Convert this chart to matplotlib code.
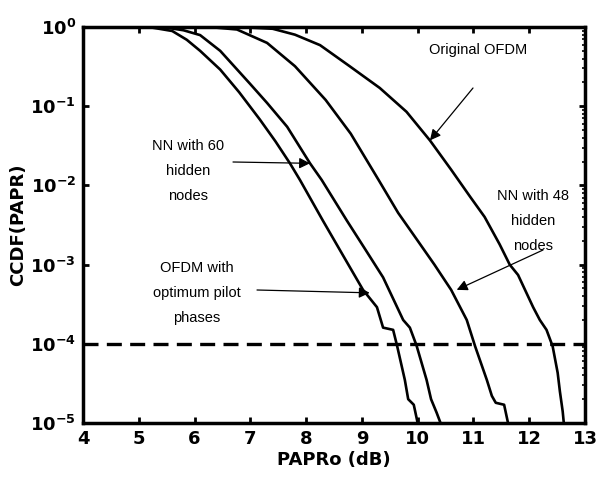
import matplotlib
matplotlib.use("Agg")
import matplotlib.pyplot as plt
from matplotlib.ticker import FixedLocator, LogLocator, NullFormatter

# ---- data ----
pilot_x = [4.0, 5.0, 5.25, 5.6, 5.86, 6.1, 6.46, 6.8, 7.17, 7.45, 7.71, 7.89, 8.3, 8.65, 9.02, 9.27, 9.38, 9.56, 9.63, 9.77, 9.83, 9.93, 10.0]
pilot_y = [1.0, 1.0, 0.98, 0.89, 0.69, 0.50, 0.29, 0.15, 0.068, 0.036, 0.019, 0.0117, 0.0036, 1.35e-3, 4.8e-4, 2.9e-4, 1.6e-4, 1.5e-4, 9.5e-5, 3.5e-5, 2.0e-5, 1.7e-5, 1.0e-5]

nn60_x = [4.0, 5.2, 5.5, 5.8, 6.1, 6.46, 7.0, 7.3, 7.66, 8.07, 8.28, 8.73, 9.05, 9.38, 9.74, 9.86, 9.98, 10.16, 10.24, 10.34, 10.41]
nn60_y = [1.0, 1.0, 0.98, 0.91, 0.79, 0.50, 0.19, 0.11, 0.055, 0.019, 0.0117, 0.0036, 1.6e-3, 6.9e-4, 2.0e-4, 1.6e-4, 9.5e-5, 3.5e-5, 2.0e-5, 1.35e-5, 1.0e-5]

nn48_x = [4.0, 6.0, 6.4, 6.76, 7.3, 7.8, 8.35, 8.8, 9.3, 9.65, 9.98, 10.3, 10.6, 10.88, 11.03, 11.24, 11.33, 11.4, 11.55, 11.62]
nn48_y = [1.0, 1.0, 0.98, 0.93, 0.63, 0.32, 0.12, 0.045, 0.0117, 0.0045, 0.0021, 1.0e-3, 4.8e-4, 2.0e-4, 9.3e-5, 3.5e-5, 2.2e-5, 1.8e-5, 1.7e-5, 1.0e-5]

orig_x = [4.0, 6.8, 7.4, 7.8, 8.25, 8.78, 9.32, 9.8, 10.22, 10.6, 10.94, 11.2, 11.47, 11.65, 11.8, 12.07, 12.19, 12.31, 12.42, 12.51, 12.55, 12.6, 12.62]
orig_y = [1.0, 1.0, 0.95, 0.8, 0.59, 0.32, 0.17, 0.085, 0.037, 0.0158, 0.0072, 0.004, 0.0018, 1.0e-3, 7.4e-4, 2.9e-4, 2.0e-4, 1.5e-4, 9.3e-5, 4.3e-5, 2.5e-5, 1.4e-5, 1.0e-5]

threshold = 1e-4

xticks = [4, 5, 6, 7, 8, 9, 10, 11, 12, 13]
yticks = [1e-5, 1e-4, 1e-3, 1e-2, 1e-1, 1e0]
ytick_labels = [r'$\mathbf{10^{-5}}$', r'$\mathbf{10^{-4}}$', r'$\mathbf{10^{-3}}$',
                r'$\mathbf{10^{-2}}$', r'$\mathbf{10^{-1}}$', r'$\mathbf{10^{0}}$']

fig = plt.figure(figsize=(5.99, 4.78), dpi=100)
ax = fig.add_axes([83/599, 1-423/478, (585-83)/599, (423-27)/478])

lw = 1.9
for xs, ys in [(pilot_x, pilot_y), (nn60_x, nn60_y), (nn48_x, nn48_y), (orig_x, orig_y)]:
    ax.plot(xs, ys, color='black', lw=lw, solid_joinstyle='round')

ax.axhline(threshold, color='black', lw=2.4, ls=(0, (4.5, 2.5)))

ax.set_yscale('log')
ax.set_xlim(4, 13)
ax.set_ylim(1e-5, 1)

ax.xaxis.set_major_locator(FixedLocator(xticks))
ax.set_xticklabels([str(t) for t in xticks], fontsize=13, fontweight='bold')
ax.yaxis.set_major_locator(FixedLocator(yticks))
ax.set_yticklabels(ytick_labels, fontsize=13)
ax.yaxis.set_minor_locator(LogLocator(base=10, subs=range(2, 10), numticks=20))
ax.yaxis.set_minor_formatter(NullFormatter())

ax.tick_params(axis='both', which='major', direction='in', length=4, width=2,
               top=True, right=True, pad=5)
ax.tick_params(axis='y', which='minor', direction='in', length=2.5, width=1.2,
               left=False, right=True)
for s in ax.spines.values():
    s.set_linewidth(2.5)

ax.set_xlabel('PAPRo (dB)', fontsize=13, fontweight='bold', labelpad=2)
ax.set_ylabel('CCDF(PAPR)', fontsize=13, fontweight='bold', labelpad=2)

tfont = dict(fontsize=10.5, family='Liberation Sans', ha='center', va='center', linespacing=2.0)
aprops = dict(arrowstyle='-|>', color='black', lw=0.9, mutation_scale=16, shrinkA=0, shrinkB=0)

def px(x, y):
    return (x / 599, 1 - y / 478)

ax.annotate('Original OFDM', xy=px(478, 50), xycoords='figure fraction', **tfont)
ax.annotate('', xy=(10.22, 0.037), xytext=px(473, 88), textcoords='figure fraction', arrowprops=aprops)

ax.annotate('NN with 60\nhidden\nnodes', xy=px(188, 171), xycoords='figure fraction', **tfont)
ax.annotate('', xy=(8.07, 0.019), xytext=px(233, 162), textcoords='figure fraction', arrowprops=aprops)

ax.annotate('NN with 48\nhidden\nnodes', xy=px(533, 221), xycoords='figure fraction', **tfont)
ax.annotate('', xy=(10.7, 4.8e-4), xytext=px(543, 250), textcoords='figure fraction', arrowprops=aprops)

ax.annotate('OFDM with\noptimum pilot\nphases', xy=px(197, 293), xycoords='figure fraction', **tfont)
ax.annotate('', xy=(9.14, 4.4e-4), xytext=px(257, 290), textcoords='figure fraction', arrowprops=aprops)

fig.savefig('out.png', dpi=100)
